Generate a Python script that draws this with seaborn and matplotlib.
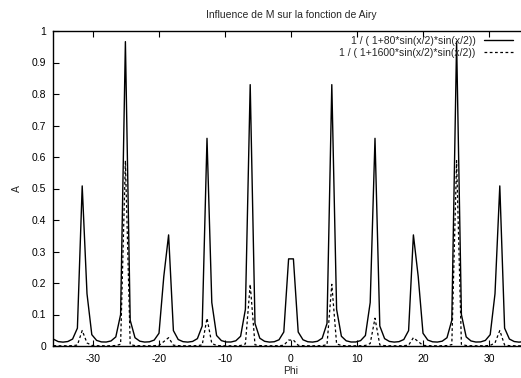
import matplotlib
matplotlib.use("Agg")
import matplotlib.pyplot as plt
import seaborn as sns
import pandas as pd
import numpy as np

# sample positions (100 points over [-36, 36])
phi = [-36.000, -35.273, -34.545, -33.818, -33.091, -32.364, -31.636, -30.909, -30.182, -29.455,
       -28.727, -28.000, -27.273, -26.545, -25.818, -25.091, -24.364, -23.636, -22.909, -22.182,
       -21.455, -20.727, -20.000, -19.273, -18.545, -17.818, -17.091, -16.364, -15.636, -14.909,
       -14.182, -13.455, -12.727, -12.000, -11.273, -10.545, -9.818, -9.091, -8.364, -7.636,
       -6.909, -6.182, -5.455, -4.727, -4.000, -3.273, -2.545, -1.818, -1.091, -0.364,
       0.364, 1.091, 1.818, 2.545, 3.273, 4.000, 4.727, 5.455, 6.182, 6.909,
       7.636, 8.364, 9.091, 9.818, 10.545, 11.273, 12.000, 12.727, 13.455, 14.182,
       14.909, 15.636, 16.364, 17.091, 17.818, 18.545, 19.273, 20.000, 20.727, 21.455,
       22.182, 22.909, 23.636, 24.364, 25.091, 25.818, 26.545, 27.273, 28.000, 28.727,
       29.455, 30.182, 30.909, 31.636, 32.364, 33.091, 33.818, 34.545, 35.273, 36.000]

a_80 = [0.0217, 0.0140, 0.0123, 0.0142, 0.0221, 0.0566, 0.5082, 0.1659, 0.0360, 0.0178,
        0.0130, 0.0126, 0.0160, 0.0288, 0.0997, 0.9662, 0.0816, 0.0263, 0.0153, 0.0125,
        0.0133, 0.0188, 0.0405, 0.2208, 0.3527, 0.0489, 0.0206, 0.0138, 0.0124, 0.0145,
        0.0234, 0.0634, 0.6593, 0.1380, 0.0333, 0.0171, 0.0128, 0.0127, 0.0165, 0.0309,
        0.1165, 0.8297, 0.0716, 0.0247, 0.0149, 0.0124, 0.0135, 0.0197, 0.0444, 0.2766,
        0.2766, 0.0444, 0.0197, 0.0135, 0.0124, 0.0149, 0.0247, 0.0716, 0.8297, 0.1165,
        0.0309, 0.0165, 0.0127, 0.0128, 0.0171, 0.0333, 0.1380, 0.6593, 0.0634, 0.0234,
        0.0145, 0.0124, 0.0138, 0.0206, 0.0489, 0.3527, 0.2208, 0.0405, 0.0188, 0.0133,
        0.0125, 0.0153, 0.0263, 0.0816, 0.9662, 0.0997, 0.0288, 0.0160, 0.0126, 0.0130,
        0.0178, 0.0360, 0.1659, 0.5082, 0.0566, 0.0221, 0.0142, 0.0123, 0.0140, 0.0217]

a_1600 = [0.0011, 0.0007, 0.0006, 0.0007, 0.0011, 0.0030, 0.0491, 0.0098, 0.0019, 0.0009,
          0.0007, 0.0006, 0.0008, 0.0015, 0.0055, 0.5883, 0.0044, 0.0013, 0.0008, 0.0006,
          0.0007, 0.0010, 0.0021, 0.0140, 0.0265, 0.0026, 0.0011, 0.0007, 0.0006, 0.0007,
          0.0012, 0.0034, 0.0882, 0.0079, 0.0017, 0.0009, 0.0006, 0.0006, 0.0008, 0.0016,
          0.0066, 0.1958, 0.0038, 0.0013, 0.0008, 0.0006, 0.0007, 0.0010, 0.0023, 0.0188,
          0.0188, 0.0023, 0.0010, 0.0007, 0.0006, 0.0008, 0.0013, 0.0038, 0.1958, 0.0066,
          0.0016, 0.0008, 0.0006, 0.0006, 0.0009, 0.0017, 0.0079, 0.0882, 0.0034, 0.0012,
          0.0007, 0.0006, 0.0007, 0.0011, 0.0026, 0.0265, 0.0140, 0.0021, 0.0010, 0.0007,
          0.0006, 0.0008, 0.0013, 0.0044, 0.5883, 0.0055, 0.0015, 0.0008, 0.0006, 0.0007,
          0.0009, 0.0019, 0.0098, 0.0491, 0.0030, 0.0011, 0.0007, 0.0006, 0.0007, 0.0011]

label_80 = "1 / ( 1+80*sin(x/2)*sin(x/2))"
label_1600 = "1 / ( 1+1600*sin(x/2)*sin(x/2))"
x_ticks = [-30, -20, -10, 0, 10, 20, 30]
y_ticks = [0, 0.1, 0.2, 0.3, 0.4, 0.5, 0.6, 0.7, 0.8, 0.9, 1]

sns.set_style("ticks")
plt.rcParams['font.family'] = ['Liberation Sans', 'DejaVu Sans']
plt.rcParams['font.size'] = 7.5

fig = plt.figure(figsize=(5.21, 3.78), dpi=100)
# the original is cropped on the right, so the axes run past the figure edge
ax = fig.add_axes([53.4 / 521, 32 / 378, 475.2 / 521, 315 / 378])

sns.lineplot(x=phi, y=a_80, ax=ax, color='black', linewidth=1.0, label=label_80, sort=False)
sns.lineplot(x=phi, y=a_1600, ax=ax, color='black', linewidth=0.9, label=label_1600, sort=False)
ax.lines[1].set_dashes([2.2, 2.0])

ax.set_xlim(-36, 36)
ax.set_ylim(0, 1)
ax.set_xticks(x_ticks)
ax.set_xticklabels([f"{v:g}" for v in x_ticks])
ax.set_yticks(y_ticks)
ax.set_yticklabels([f"{v:g}" for v in y_ticks])

for side in ['top', 'right', 'bottom', 'left']:
    ax.spines[side].set_visible(True)
    ax.spines[side].set_linewidth(1.0)
    ax.spines[side].set_color('black')
ax.tick_params(direction='in', length=4, width=0.8, top=True, right=True, colors='black', labelsize=7.5)
ax.tick_params(axis='x', pad=5.5)
ax.tick_params(axis='y', pad=5)

ax.set_xlabel("Phi", fontsize=7.5, labelpad=1.5)
ax.set_ylabel("A", fontsize=7.5, labelpad=7)
fig.text(291 / 521, 1 - 15 / 378, "Influence de M sur la fonction de Airy", ha='center', va='center', fontsize=7.5)

leg = ax.legend(loc='upper right', bbox_to_anchor=(513 / 521, 1 - 36 / 378), bbox_transform=fig.transFigure,
                frameon=False, markerfirst=False, handlelength=2.8, handletextpad=0.8,
                labelspacing=0.15, borderpad=0, borderaxespad=0, fontsize=7.5)
for t in leg.get_texts():
    t.set_ha('right')

fig.savefig("out.png", dpi=100)
